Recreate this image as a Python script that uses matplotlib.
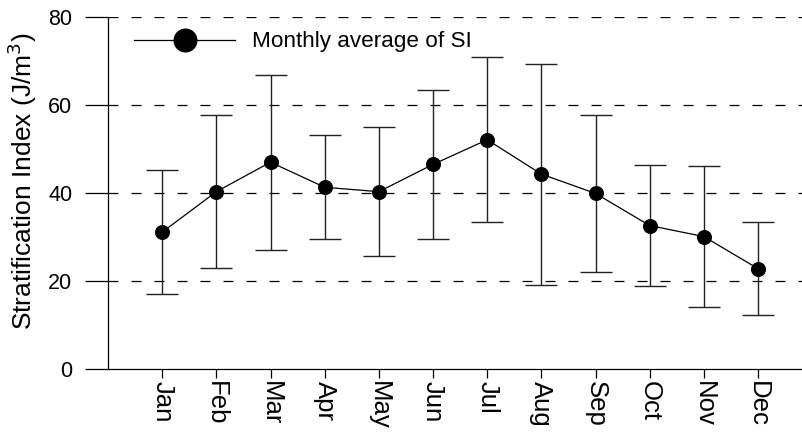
import numpy as np
import matplotlib
matplotlib.use('Agg')
import matplotlib.pyplot as plt
from matplotlib.lines import Line2D

plt.rcParams['font.family'] = ['Liberation Sans', 'DejaVu Sans']

months = ['Jan', 'Feb', 'Mar', 'Apr', 'May', 'Jun',
          'Jul', 'Aug', 'Sep', 'Oct', 'Nov', 'Dec']
si_mean = [31.1, 40.3, 47.0, 41.3, 40.3, 46.5, 52.1, 44.3, 39.9, 32.6, 30.1, 22.8]
si_std = [14.1, 17.4, 19.9, 11.8, 14.7, 16.9, 18.7, 25.1, 17.8, 13.8, 16.0, 10.6]
yticks = [0, 20, 40, 60, 80]

fig = plt.figure(figsize=(8.03, 4.33), dpi=100)
ax = fig.add_axes([108/803, 64/433, 695/803, 352/433])

x = np.arange(1, len(months) + 1)

# dashed reference lines
for yv in yticks[1:]:
    ax.axhline(yv, color='black', lw=0.9, ls=(0, (8, 10.4)), zorder=1)

ax.errorbar(x, si_mean, yerr=si_std, fmt='none', ecolor='#222222',
            elinewidth=1.0, capsize=11.5, capthick=1.0, zorder=2)
ax.plot(x, si_mean, '-', color='black', lw=0.9, marker='o',
        markersize=9.8, markerfacecolor='black', markeredgecolor='black', zorder=3)

ax.set_xlim(0, 12.83)
ax.set_ylim(0, 80)
ax.set_yticks(yticks)
ax.set_xticks(x)
ax.set_xticklabels(months, rotation=-90, fontsize=18.5)

for s in ['top', 'right']:
    ax.spines[s].set_visible(False)
ax.spines['left'].set_linewidth(0.9)
ax.spines['bottom'].set_linewidth(0.9)

ax.tick_params(axis='y', direction='out', length=16.6, width=0.9, pad=9, labelsize=15.5)
ax.tick_params(axis='x', direction='out', length=6.5, width=0.9, pad=2)

fig.text(22/803, 1 - 181/433, 'Stratification Index (J/m$^3$)', rotation=90,
         ha='center', va='center', fontsize=19)

handle = Line2D([], [], color='black', lw=0.9, marker='o', markersize=16.3,
                markerfacecolor='black', markeredgecolor='black')
ax.legend([handle], ['Monthly average of SI'], loc='center left',
          bbox_to_anchor=(26/695, (369-42)/352), frameon=False, borderpad=0,
          borderaxespad=0, handlelength=4.5, handletextpad=0.75, fontsize=16.2)

fig.savefig('out.png', dpi=100)
